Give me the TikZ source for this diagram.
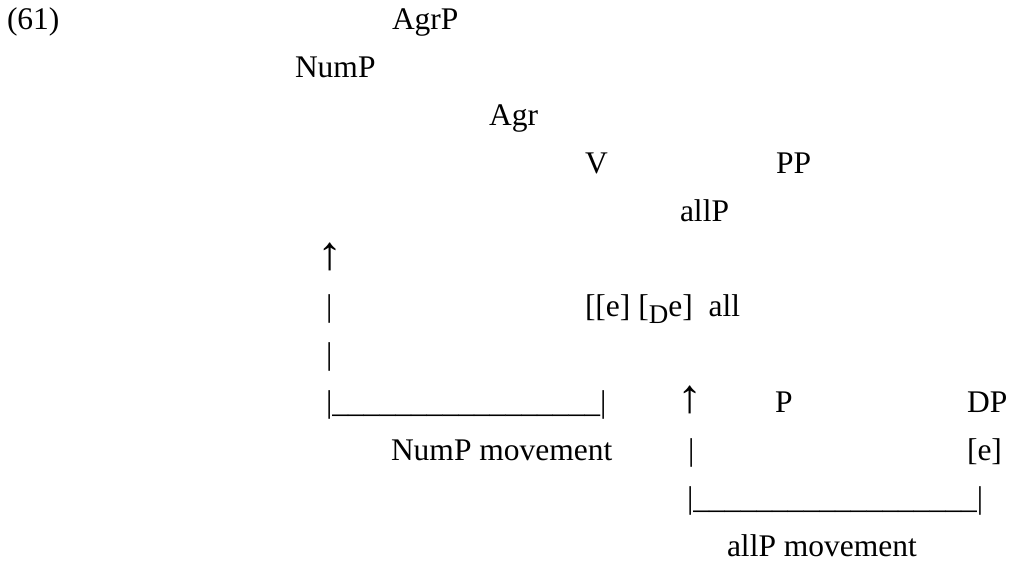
\documentclass[tikz,border=0pt]{standalone}
\usepackage{fontspec}
\setmainfont{Liberation Serif}
\newcommand{\uparr}{\scalebox{1.6}[1.5]{↑}}
\newcommand{\lowD}{\raisebox{-7pt}{\fontsize{27}{27}\selectfont D}}
\begin{document}
\begin{tikzpicture}[x=1pt,y=1pt,
  lbl/.style={anchor=base west,inner sep=0pt,outer sep=0pt,
    font=\fontsize{31.5}{31.5}\selectfont}]
\useasboundingbox (0,0) rectangle (1011,-562);
% tree labels
\node[lbl] (ex)    at (7,-29.5)   {(61)};
\node[lbl] (agrp)  at (392,-29.5) {AgrP};
\node[lbl] (nump)  at (295,-77.4) {NumP};
\node[lbl] (agr)   at (489,-125.3) {Agr};
\node[lbl] (v)     at (585,-173.2) {V};
\node[lbl] (pp)    at (776,-173.2) {PP};
\node[lbl] (allp)  at (680,-221.1) {allP};
\node[lbl] (inner) at (585,-316.9) {[[e] [\lowD e]\ \ all};
\node[lbl] (p)     at (775,-412.7) {P};
\node[lbl] (dp)    at (967,-412.7) {DP};
\node[lbl] (e)     at (967,-460.6) {[e]};
% NumP movement path
\node[lbl] (na)    at (317,-269)   {\uparr};
\node[lbl] (nb1)   at (326,-316.9) {|};
\node[lbl] (nb2)   at (326,-364.8) {|};
\node[lbl] (nbase) at (326,-412.7) {|\_\_\_\_\_\_\_\_\_\_\_\_\_\_\_\_\_|};
\node[lbl] (nlab)  at (391,-460.6) {NumP movement};
% allP movement path
\node[lbl] (aa)    at (677,-412.7) {\uparr};
\node[lbl] (ab1)   at (688,-460.6) {|};
\node[lbl] (abase) at (687,-508.5) {|\_\_\_\_\_\_\_\_\_\_\_\_\_\_\_\_\_\_|};
\node[lbl] (alab)  at (727,-556.4) {allP movement};
\end{tikzpicture}
\end{document}
